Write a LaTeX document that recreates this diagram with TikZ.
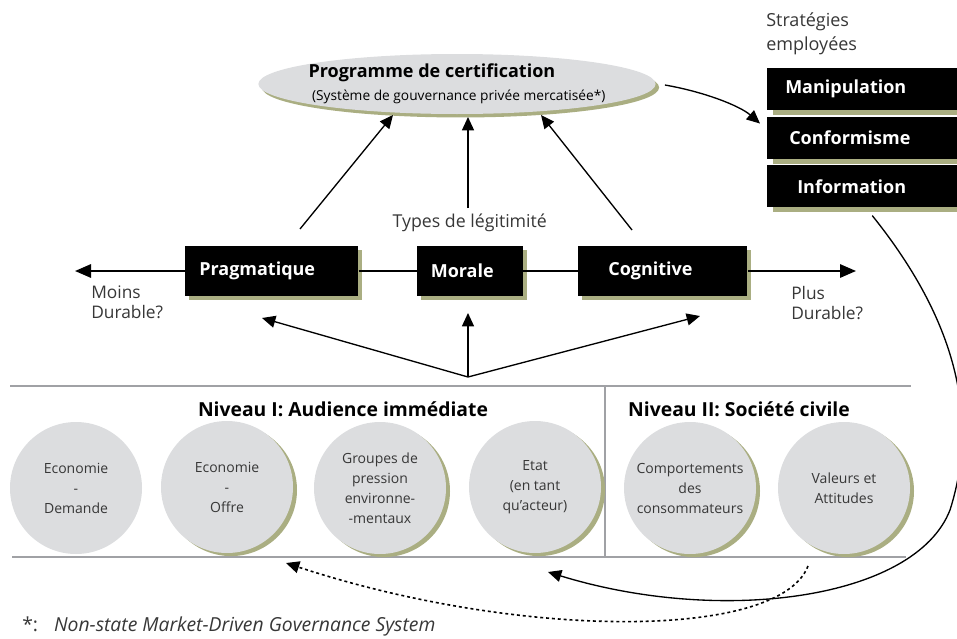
\documentclass[tikz,border=0pt]{standalone}
\usepackage{fontspec}
\setmainfont{Open Sans}
\usepackage{xcolor}
\usepackage{tikz}
\usetikzlibrary{arrows.meta, positioning, shapes, shadows, calc}

\newlength{\dpx}\setlength{\dpx}{0.75pt}
\definecolor{olivesh}{RGB}{170,174,130}
\definecolor{discgray}{RGB}{220,221,223}
\definecolor{rulegray}{RGB}{160,161,165}
\definecolor{txtgray}{RGB}{55,55,55}

\begin{document}
\begin{tikzpicture}[
  x=0.75pt, y=-0.75pt,
  node distance=6\dpx,
  olshadow/.style={drop shadow={shadow xshift=#1, shadow yshift=-#1,
                   fill=olivesh, opacity=1}},
  prog/.style={ellipse, fill=discgray, minimum width=388\dpx,
               minimum height=60\dpx, inner xsep=-6pt, inner ysep=-4pt,
               align=left, olshadow=2.6pt},
  sbox/.style={rectangle, fill=black, text=white, minimum height=42\dpx,
               align=left, font=\bfseries\fontsize{13.5}{15}\selectfont,
               drop shadow={shadow xshift=4.5pt, shadow yshift=-3.8pt,
                            fill=olivesh, opacity=1}},
  tbox/.style={rectangle, fill=black, text=white, minimum height=50\dpx,
               align=left, font=\bfseries\fontsize{13.5}{15}\selectfont,
               olshadow=3pt},
  disc/.style={circle, fill=discgray, minimum size=132\dpx, inner sep=0pt,
               align=center, text=txtgray,
               font=\fontsize{10.5}{15}\selectfont},
  sdisc/.style={disc, drop shadow={shadow xshift=3pt, shadow yshift=-2.3pt,
                                   fill=olivesh, opacity=1}},
  lbl/.style={text=txtgray, inner sep=0pt, align=left,
              font=\fontsize{13}{15}\selectfont},
  ttl/.style={inner sep=0pt, font=\bfseries\fontsize{14.5}{16}\selectfont},
  arr/.style={-{Triangle[length=10pt, width=9pt]}, line width=1pt},
  axis/.style={line width=1.5pt},
  rule/.style={rulegray, line width=2pt},
]
\useasboundingbox (0,0) rectangle (957,639);

%% ---- certification programme ----
\node[prog] (prog) at (457,84)
  {\textbf{\fontsize{13.5}{15}\selectfont Programme de certification}\\[5pt]
   {\fontsize{10.3}{12}\selectfont\ (Système de gouvernance privée mercatisée*)}};

%% ---- strategies ----
\node[lbl, anchor=north west, font=\fontsize{13.5}{18}\selectfont]
  (strat) at (766,12) {Stratégies\\employées};
\node[sbox, anchor=north west, inner xsep=18\dpx, text width=154\dpx]
  (manip) at (767,68) {Manipulation};
\node[sbox, below=of manip, inner xsep=22\dpx, text width=146\dpx]
  (conf) {Conformisme};
\node[sbox, below=of conf, inner xsep=30\dpx, text width=130\dpx]
  (info) {Information};

%% ---- types of legitimacy ----
\coordinate (axleft)  at (75,271);
\coordinate (axright) at (856,271);
\node[tbox, anchor=west, inner xsep=14\dpx, text width=145\dpx]
  (prag) at (185,271) {Pragmatique};
\node[tbox, right=58\dpx of prag, inner xsep=14\dpx, text width=78\dpx]
  (mor) {Morale};
\node[tbox, right=55\dpx of mor, inner xsep=30\dpx, text width=109\dpx]
  (cog) {Cognitive};
\draw[axis] (prag) -- (mor) (mor) -- (cog);
\draw[axis, -{Triangle[length=12pt, width=10pt]}] (prag) -- (axleft);
\draw[axis, -{Triangle[length=12pt, width=10pt]}] (cog) -- (axright);
\node[lbl, above=14\dpx of mor, font=\fontsize{13.3}{15}\selectfont]
  (types) {Types de légitimité};
\node[lbl, anchor=north west] (moins) at (91,286) {Moins\\Durable?};
\node[lbl, anchor=north west] (plus) at (791,286) {Plus\\Durable?};

%% legitimacy -> programme
\coordinate (pragup) at (300,229);
\coordinate (progl)  at (393,115);
\coordinate (morup)  at (468,208);
\coordinate (progm)  at (468,117);
\coordinate (cogup)  at (632,230);
\coordinate (progr)  at (541,115);
\draw[arr] (pragup) -- (progl);
\draw[arr] (morup) -- (progm);
\draw[arr] (cogup) -- (progr);
\draw[arr] ($(prog.east)+(9,1)$) .. controls (705,92) and (740,106)
  .. ($(conf.north west)+(-7,7)$);

%% audiences -> legitimacy
\coordinate (hub)   at (468,377);
\coordinate (pragin) at (262,318);
\coordinate (morin)  at (468,313);
\coordinate (cogin)  at (700,316);
\draw[arr] (hub) -- (pragin);
\draw[arr] (hub) -- (morin);
\draw[arr] (hub) -- (cogin);

%% ---- audience panel ----
\draw[rule] (10,386) -- (911,386);
\draw[rule] (12,557) -- (906,557);
\draw[rule] (605,386) -- (605,557);
\node[ttl] (niv1) at (343,409) {Niveau I: Audience immédiate};
\node[ttl] (niv2) at (739,409) {Niveau II: Société civile};

\node[disc]  (dem)  at (76,488)  {Economie\\-\\Demande};
\node[sdisc] (off)  at (227,487) {Economie\\-\\Offre};
\node[sdisc] (grp)  at (380,488) {Groupes de\\pression\\environne-\\-mentaux};
\node[sdisc] (etat) at (535,487) {Etat\\(en tant\\qu'acteur)};
\node[sdisc] (comp) at (690,488) {Comportements\\des\\consommateurs};
\node[sdisc] (val)  at (844,488) {Valeurs et\\Attitudes};

%% feedback loops
\coordinate (loopend) at (548,572);
\coordinate (dotstart) at (808,566);
\coordinate (dotend) at (286,563);
\draw[arr] ($(info.south)+(10,8)$) .. controls (940,300) and (985,400)
  .. (950,510) .. controls (915,600) and (720,625) .. (loopend);
\draw[arr, line width=1.2pt, dash pattern=on 2.2pt off 2.2pt]
  (dotstart) .. controls (780,640) and (520,640) .. (dotend);

%% footnote
\node[lbl, anchor=west, font=\fontsize{14.5}{16}\selectfont] (note) at (22,626)
  {*:\hspace{16\dpx}\textit{Non-state Market-Driven Governance System}};
\end{tikzpicture}
\end{document}
